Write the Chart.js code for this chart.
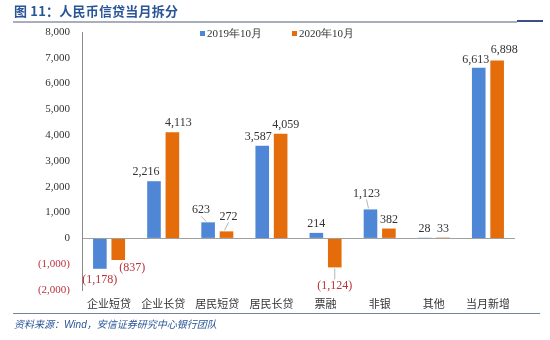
<!DOCTYPE html>
<html>
<head>
<meta charset="utf-8">
<script src="https://cdn.jsdelivr.net/npm/chart.js@4"></script>
<style>
  html, body { margin:0; padding:0; background:#fff; }
  #wrap { position:relative; width:550px; height:340px; overflow:hidden; }
  #c { position:absolute; left:0; top:0; }
  .title { position:absolute; left:14px; top:3px; font:bold 13px "Noto Sans CJK SC", sans-serif; color:#2a5597; white-space:nowrap; letter-spacing:0.2px; line-height:16px; }
  .rule-top { position:absolute; left:13px; top:21px; width:504px; height:0; border-top:2px solid #a9afba; }
  .rule-top-end { position:absolute; left:517px; top:20px; width:26px; height:0; border-top:2px solid #3a4f86; }
  .lg { position:absolute; top:26px; font:11px "Liberation Serif", serif; color:#333; white-space:nowrap; line-height:14px; }
  .lg i { display:inline-block; width:5px; height:5px; margin-right:2px; vertical-align:1px; }
  .rule-bot { position:absolute; left:13px; top:313px; width:527px; height:1px; background:#6d86a6; }
  .src { position:absolute; left:14px; top:316px; font:italic 10px "Noto Sans CJK SC", sans-serif; color:#2a5597; white-space:nowrap; }
  .src b { font:italic 10px "Liberation Sans", sans-serif; }
</style>
</head>
<body>
<div id="wrap">
  <canvas id="c" width="550" height="340"></canvas>
  <div class="title">图 11：人民币信贷当月拆分</div>
  <div class="rule-top"></div>
  <div class="rule-top-end"></div>
  <div class="lg" id="lg0" style="left:200px"></div>
  <div class="lg" id="lg1" style="left:292px"></div>
  <div class="rule-bot"></div>
  <div class="src">资料来源：<b>Wind</b>，安信证券研究中心银行团队</div>
</div>
<script>
// ---- data ----
const categories = ['企业短贷','企业长贷','居民短贷','居民长贷','票融','非银','其他','当月新增'];
const oct2019 = [-1178, 2216, 623, 3587, 214, 1123, 28, 6613];
const oct2020 = [-837, 4113, 272, 4059, -1124, 382, 33, 6898];
const seriesNames = ['2019年10月','2020年10月'];
const seriesColors = ['#4f87d6','#e46c0a'];
const yMin = -2000, yMax = 8000, yStep = 1000;

// manual label nudges [dx, dy] per series, like hand-moved excel labels
const labelNudge = [
  [[0,1],[-8,0],[-7,-3],[-4,0],[0,0],[-4,-7],[0,0],[-3,1]],
  [[14,-2],[6,0],[2,-6],[5,0],[0,8],[0,0],[0,0],[7,-2]]
];

const NEG = '#b8333a';
const fmt = v => v < 0 ? '(' + Math.abs(v).toLocaleString('en-US') + ')' : v.toLocaleString('en-US');

// legend as html
seriesNames.forEach((n,i)=>{
  document.getElementById('lg'+i).innerHTML = '<i style="background:'+seriesColors[i]+'"></i>'+n;
});

const valueLabels = {
  id:'valueLabels',
  afterDatasetsDraw(chart){
    const ctx = chart.ctx;
    ctx.save();
    ctx.font = '12px "Liberation Serif", serif';
    ctx.textAlign = 'center';
    ctx.textBaseline = 'middle';
    chart.data.datasets.forEach((ds, di)=>{
      chart.getDatasetMeta(di).data.forEach((el, i)=>{
        const v = ds.data[i];
        const [dx, dy] = labelNudge[di][i];
        const neg = v < 0;
        const end = neg ? Math.max(el.y, el.base) : Math.min(el.y, el.base);
        const lx = el.x + dx;
        const ly = neg ? end + 10 + dy : end - 9 + dy;
        // leader line when label was pulled away from bar
        if(Math.abs(dy) >= 3){
          ctx.strokeStyle = '#b5b5b5';
          ctx.lineWidth = 1;
          ctx.beginPath();
          if(neg){ ctx.moveTo(el.x, end + 1); ctx.lineTo(lx, ly - 6); }
          else { ctx.moveTo(el.x - 2, end - 1); ctx.lineTo(lx, ly + 6); }
          ctx.stroke();
        }
        ctx.fillStyle = neg ? NEG : '#333';
        ctx.fillText(fmt(v), lx, ly);
      });
    });
    ctx.restore();
  }
};

new Chart(document.getElementById('c'), {
  type:'bar',
  data:{
    labels: categories,
    datasets:[
      { label: seriesNames[0], data: oct2019, backgroundColor: seriesColors[0] },
      { label: seriesNames[1], data: oct2020, backgroundColor: seriesColors[1] }
    ]
  },
  options:{
    responsive:false,
    animation:false,
    devicePixelRatio:1,
    categoryPercentage:0.68,
    barPercentage:0.74,
    layout:{ padding:{ left:0, top:32, right:35, bottom:0 } },
    plugins:{ legend:{ display:false }, tooltip:{ enabled:false } },
    scales:{
      x:{
        grid:{ display:false, drawTicks:false },
        border:{ display:false },
        ticks:{ padding:7, color:'#333', font:{ family:'"Noto Sans CJK SC", sans-serif', size:11 } },
        afterFit(s){ s.height = 50; }
      },
      y:{
        min:yMin, max:yMax,
        ticks:{
          stepSize:yStep, padding:12,
          color: c => c.tick && c.tick.value < 0 ? NEG : '#333',
          font:{ family:'"Liberation Serif", serif', size:11 },
          callback: v => fmt(v)
        },
        grid:{ drawTicks:false, color: c => c.tick && c.tick.value === 0 ? '#a0a0a0' : 'rgba(0,0,0,0)' },
        border:{ display:true, color:'#8a8a8a', width:1 },
        afterFit(s){ s.width = 82; }
      }
    }
  },
  plugins:[valueLabels]
});
</script>
</body>
</html>
